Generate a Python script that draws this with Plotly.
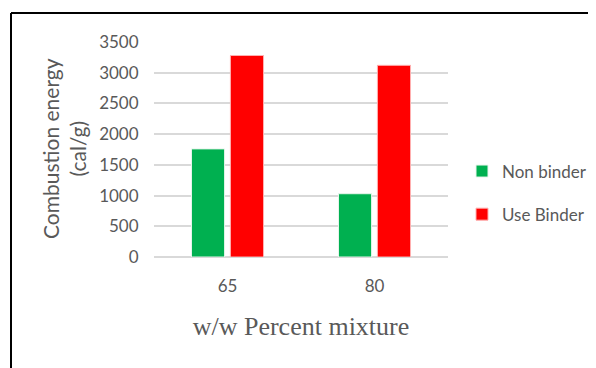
import plotly.graph_objects as go

categories = ["65", "80"]
non_binder = [1760, 1030]
use_binder = [3280, 3120]
y_ticks = [0, 500, 1000, 1500, 2000, 2500, 3000, 3500]

# page has an 8px body margin: work in page pixels, convert to figure pixels
OFF = 8
W, H = 596 - OFF, 368 - OFF
L, R, T, B = 154 - OFF, 148, 42 - OFF, 111
pw, ph = W - L - R, H - T - B

def px_x(x):  # x in page pixels
    return (x - OFF - L) / pw

def px_y(y):  # y in page pixels
    return (H - B - (y - OFF)) / ph

fig = go.Figure()
fig.add_trace(go.Bar(name="Non binder", x=categories, y=non_binder,
                     marker=dict(color="#00b050", line=dict(color="#e8f5ec", width=1)),
                     legendgroup="a"))
fig.add_trace(go.Bar(name="Use Binder", x=categories, y=use_binder,
                     marker=dict(color="#ff0000", line=dict(color="#ffb0b0", width=1)),
                     legendgroup="b"))

fig.update_layout(
    width=W, height=H,
    margin=dict(l=L, r=R, t=T, b=B, autoexpand=False),
    paper_bgcolor="white", plot_bgcolor="white",
    barmode="group", bargap=0.47, bargroupgap=0.15,
    font=dict(family="Lato", color="#595959", size=16),
    showlegend=True,
    legend=dict(x=px_x(462), y=px_y(193), xanchor="left", yanchor="middle",
                font=dict(size=17, color="#595959"), tracegroupgap=18,
                itemwidth=30, bgcolor="rgba(0,0,0,0)"),
    xaxis=dict(showgrid=False, showline=False, ticks="outside", ticklen=14,
               tickcolor="rgba(0,0,0,0)", tickfont=dict(size=17, color="#595959"),
               title=dict(text="w/w Percent mixture",
                          font=dict(family="Liberation Serif", size=26, color="#595959"),
                          standoff=21)),
    yaxis=dict(range=[0, 3500], tickvals=y_ticks, showgrid=True, gridcolor="#d9d9d9",
               gridwidth=1.5, zeroline=True, zerolinecolor="#d9d9d9", zerolinewidth=1.5,
               ticks="outside", ticklen=11, tickcolor="rgba(0,0,0,0)",
               tickfont=dict(size=17, color="#595959")),
)

fig.add_annotation(text="Combustion energy<br>(cal/g)", textangle=-90,
                   xref="paper", yref="paper", x=px_x(64), y=px_y(149),
                   xanchor="center", yanchor="middle", showarrow=False,
                   font=dict(family="Lato", size=21, color="#595959"))

# frame
fig.add_shape(type="line", xref="paper", yref="paper",
              x0=px_x(11), x1=px_x(610), y0=px_y(13), y1=px_y(13),
              line=dict(color="black", width=2))
fig.add_shape(type="line", xref="paper", yref="paper",
              x0=px_x(11), x1=px_x(11), y0=px_y(380), y1=px_y(13),
              line=dict(color="black", width=2))

fig.write_html("out.html")
